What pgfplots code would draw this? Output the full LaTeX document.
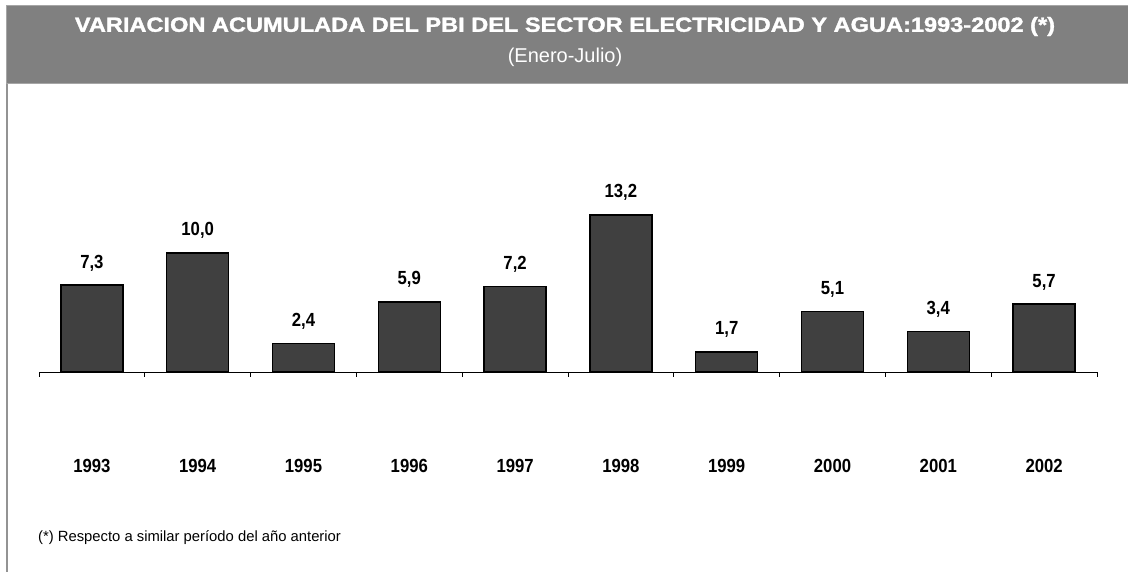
\documentclass[border=0pt]{standalone}
\usepackage{pgfplots}
\pgfplotsset{compat=1.18}
\usepackage{fontspec}
\setmainfont{Liberation Sans}
\newfontfamily\cond[FakeStretch=0.88]{Liberation Sans}
\newfontfamily\titlef[FakeBold=1.5]{Liberation Sans}
\definecolor{band}{HTML}{808080}
\definecolor{barc}{HTML}{404040}
\begin{document}
\begin{tikzpicture}[x=1pt,y=1pt]
\path[use as bounding box] (0,0) rectangle (1128,572);
\fill[white] (0,0) rectangle (1128,572);
\filldraw[fill=band, draw=gray!70, line width=1] (6,488) rectangle (1130,566);
\draw[gray!85, line width=2] (7,0) -- (7,488);
\node[white, inner sep=0, xscale=1.15, font=\titlef\bfseries\fontsize{20.5}{22}\selectfont] at (565,545.5) {VARIACION ACUMULADA DEL PBI DEL SECTOR ELECTRICIDAD Y AGUA:1993-2002 (*)};
\node[white, inner sep=0, font=\fontsize{20}{22}\selectfont] at (565,515) {(Enero-Julio)};
\node[anchor=base west, inner sep=0, font=\fontsize{14.8}{16}\selectfont] at (38,30) {(*) Respecto a similar período del año anterior};
\begin{axis}[
  at={(39pt,200pt)}, anchor=south west,
  scale only axis, width=1058pt, height=178.5pt,
  xmin=0.5, xmax=10.5, ymin=0, ymax=15,
  hide y axis,
  axis x line*=bottom,
  x axis line style={black, line width=0.8pt},
  xtick={0.5,1.5,...,10.5}, xticklabels={},
  xtick align=outside, major tick length=5pt,
  tick style={black, line width=0.8pt},
  extra x ticks={1,2,3,4,5,6,7,8,9,10},
  extra x tick labels={1993,1994,1995,1996,1997,1998,1999,2000,2001,2002},
  extra x tick style={major tick length=0pt, xticklabel style={anchor=base, inner sep=0, yshift=-101pt, font=\cond\bfseries\fontsize{19}{21}\selectfont}},
  /pgf/number format/.cd, use comma, fixed, fixed zerofill, precision=1, assume math mode=true,
]
\addplot[ybar, bar width=62pt, fill=barc, draw=black, line width=1.5pt,
  nodes near coords,
  every node near coord/.append style={anchor=base, inner sep=0, yshift=17pt, font=\cond\bfseries\fontsize{19}{21}\selectfont, text=black}]
  coordinates {(1,7.3) (2,10.0) (3,2.4) (4,5.9) (5,7.2) (6,13.2) (7,1.7) (8,5.1) (9,3.4) (10,5.7)};
\end{axis}
\end{tikzpicture}
\end{document}
